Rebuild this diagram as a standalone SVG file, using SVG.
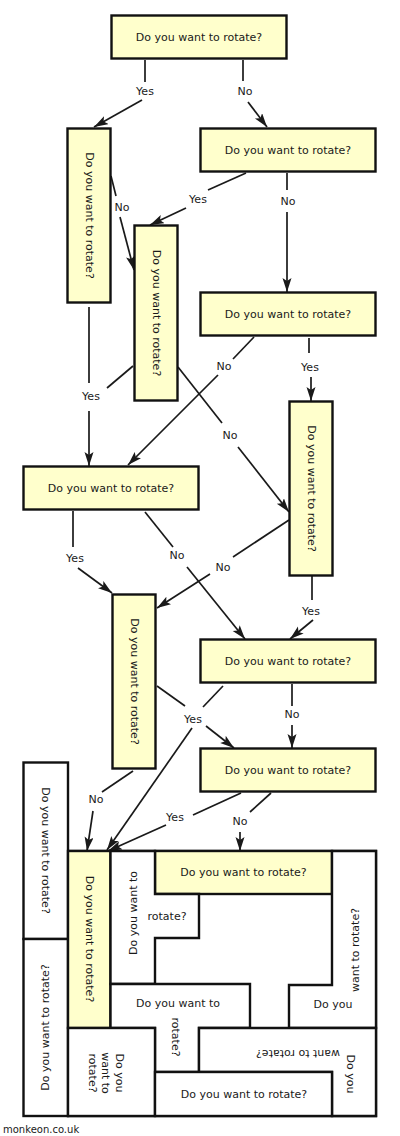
<svg xmlns="http://www.w3.org/2000/svg" width="400" height="1136" viewBox="0 0 400 1136">
<style>
.box{fill:#ffffcc;stroke:#111;stroke-width:2.4}
.wbox{fill:#ffffff;stroke:#111;stroke-width:2.4}
.t{font-family:"DejaVu Sans",Verdana,sans-serif;font-size:11px;fill:#1a1a1a;text-anchor:middle;dominant-baseline:central}
.c{fill:none;stroke:#1a1a1a;stroke-width:1.7}
.a{marker-end:url(#arr)}
</style>
<defs>
<marker id="arr" markerUnits="userSpaceOnUse" markerWidth="15" markerHeight="10" refX="14" refY="4.5" orient="auto">
<path d="M0,0 L14,4.5 L0,9 L3,4.5 z" fill="#1a1a1a"/>
</marker>
</defs>
<rect width="400" height="1136" fill="#ffffff"/>

<g id="connectors">
<path class="c" d="M145,60 V82"/><path class="c a" d="M142,100 L94,127"/>
<path class="c" d="M243,60 V81"/><path class="c a" d="M248,102 L267,127"/>
<path class="c" d="M111,176 L116,196"/><path class="c a" d="M120,217 L134,270"/>
<path class="c" d="M246,173 L208,190"/><path class="c a" d="M186,208 L150,225"/>
<path class="c" d="M287,173 V190"/><path class="c a" d="M287,212 V292"/>
<path class="c" d="M89,307 V383"/><path class="c a" d="M89,411 V466"/>
<path class="c" d="M133,366 L107,388"/>
<path class="c" d="M254,337 L233,359"/><path class="c a" d="M218,375 L128,465"/>
<path class="c" d="M309,338 V353"/><path class="c a" d="M311,377 V401"/>
<path class="c" d="M178,367 L222,423"/><path class="c a" d="M238,447 L289,512"/>
<path class="c" d="M73,511 V547"/><path class="c a" d="M78,568 L112,593"/>
<path class="c" d="M145,512 L173,547"/><path class="c a" d="M187,567 L245,639"/>
<path class="c" d="M289,520 L233,557"/><path class="c a" d="M210,574 L157,608"/>
<path class="c" d="M312,576 V600"/><path class="c a" d="M313,620 L290,639"/>
<path class="c" d="M157,686 L185,706"/><path class="c a" d="M206,726 L234,748"/>
<path class="c" d="M223,686 L203,707"/><path class="c a" d="M192,728 L107,850"/>
<path class="c" d="M292,684 V706"/><path class="c a" d="M292,725 V748"/>
<path class="c" d="M133,771 L102,792"/><path class="c a" d="M93,811 L87,851"/>
<path class="c" d="M241,793 L193,815"/><path class="c a" d="M166,825 L108,851"/>
<path class="c" d="M271,793 L250,812"/><path class="c a" d="M240,832 V851"/>
<text class="t" x="145" y="91">Yes</text>
<text class="t" x="245" y="91">No</text>
<text class="t" x="122" y="207">No</text>
<text class="t" x="198" y="199">Yes</text>
<text class="t" x="288" y="201">No</text>
<text class="t" x="91" y="396">Yes</text>
<text class="t" x="224" y="366">No</text>
<text class="t" x="310" y="367">Yes</text>
<text class="t" x="230" y="435">No</text>
<text class="t" x="75" y="558">Yes</text>
<text class="t" x="177" y="555">No</text>
<text class="t" x="223" y="567">No</text>
<text class="t" x="311" y="611">Yes</text>
<text class="t" x="193" y="719">Yes</text>
<text class="t" x="292" y="714">No</text>
<text class="t" x="96" y="799">No</text>
<text class="t" x="175" y="817">Yes</text>
<text class="t" x="240" y="821">No</text>
</g>

<g id="n1"><rect class="box" x="111.5" y="15.5" width="175" height="43"/><text class="t" x="199" y="37">Do you want to rotate?</text></g>
<g id="n2"><rect class="box" x="67.5" y="128.5" width="43" height="174"/><text class="t" transform="translate(89,215.5) rotate(90)">Do you want to rotate?</text></g>
<g id="n3"><rect class="box" x="200.5" y="128.5" width="175" height="43"/><text class="t" x="288" y="150">Do you want to rotate?</text></g>
<g id="n4"><rect class="box" x="134.5" y="225.5" width="43" height="175"/><text class="t" transform="translate(156,313) rotate(90)">Do you want to rotate?</text></g>
<g id="n5"><rect class="box" x="200.5" y="292.5" width="175" height="43"/><text class="t" x="288" y="314">Do you want to rotate?</text></g>
<g id="n6"><rect class="box" x="289.5" y="401.5" width="43" height="174"/><text class="t" transform="translate(311,488.5) rotate(90)">Do you want to rotate?</text></g>
<g id="n7"><rect class="box" x="23.5" y="466.5" width="175" height="43"/><text class="t" x="111" y="488">Do you want to rotate?</text></g>
<g id="n8"><rect class="box" x="112.5" y="594.5" width="43" height="174"/><text class="t" transform="translate(134,681.5) rotate(90)">Do you want to rotate?</text></g>
<g id="n9"><rect class="box" x="200.5" y="639.5" width="175" height="43"/><text class="t" x="288" y="661">Do you want to rotate?</text></g>
<g id="n10"><rect class="box" x="200.5" y="748.5" width="175" height="43"/><text class="t" x="288" y="770">Do you want to rotate?</text></g>

<g id="puzzle">
<rect class="wbox" x="68" y="851" width="308" height="265"/>
<g id="p-left-top"><rect class="wbox" x="23.5" y="762.5" width="44.5" height="176.5"/><text class="t" transform="translate(45.5,850.5) rotate(90)">Do you want to rotate?</text></g>
<g id="p-left-bottom"><rect class="wbox" x="23.5" y="939" width="44.5" height="177"/><text class="t" transform="translate(45.5,1027.5) rotate(-90)">Do you want to rotate?</text></g>
<g id="p-yellow-v"><rect class="box" x="68" y="851" width="42.5" height="177"/><text class="t" transform="translate(89,939) rotate(90)">Do you want to rotate?</text></g>
<g id="p-yellow-h"><rect class="box" x="155" y="851" width="177" height="43"/><text class="t" x="243.5" y="872.5">Do you want to rotate?</text></g>
<g id="p-upper-left"><path class="wbox" d="M110.5,851 H155 V894 H199 V938 H155 V984 H110.5 Z"/><text class="t" transform="translate(133,913) rotate(-90)">Do you want to</text><text class="t" x="167" y="916">rotate?</text></g>
<g id="p-right"><path class="wbox" d="M332,851 H376 V1028 H289 V985 H332 Z"/><text class="t" transform="translate(355,950) rotate(-90)">want to rotate?</text><text class="t" x="333" y="1004">Do you</text></g>
<g id="p-tee"><path class="wbox" d="M110.5,984 H250 V1028 H199 V1072 H155 V1028 H110.5 Z"/><text class="t" x="178" y="1003">Do you want to</text><text class="t" transform="translate(175,1037) rotate(90)">rotate?</text></g>
<g id="p-bottom-left"><rect class="wbox" x="68" y="1028" width="87" height="88"/><text class="t" transform="translate(106,1073) rotate(90)"><tspan x="0" y="-13.5">Do you</tspan><tspan x="0" y="0">want to</tspan><tspan x="0" y="13.5">rotate?</tspan></text></g>
<g id="p-bottom-right"><path class="wbox" d="M199,1028 H376 V1116 H332 V1072 H199 Z"/><text class="t" transform="translate(298,1053) rotate(180)">want to rotate?</text><text class="t" transform="translate(350,1074) rotate(90)">Do you</text></g>
<g id="p-bottom"><rect class="wbox" x="155" y="1072" width="177" height="44"/><text class="t" x="244" y="1094">Do you want to rotate?</text></g>
</g>

<text x="3" y="1133" style="font-family:'DejaVu Sans',Verdana,sans-serif;font-size:10px;fill:#1a1a1a">monkeon.co.uk</text>
</svg>
